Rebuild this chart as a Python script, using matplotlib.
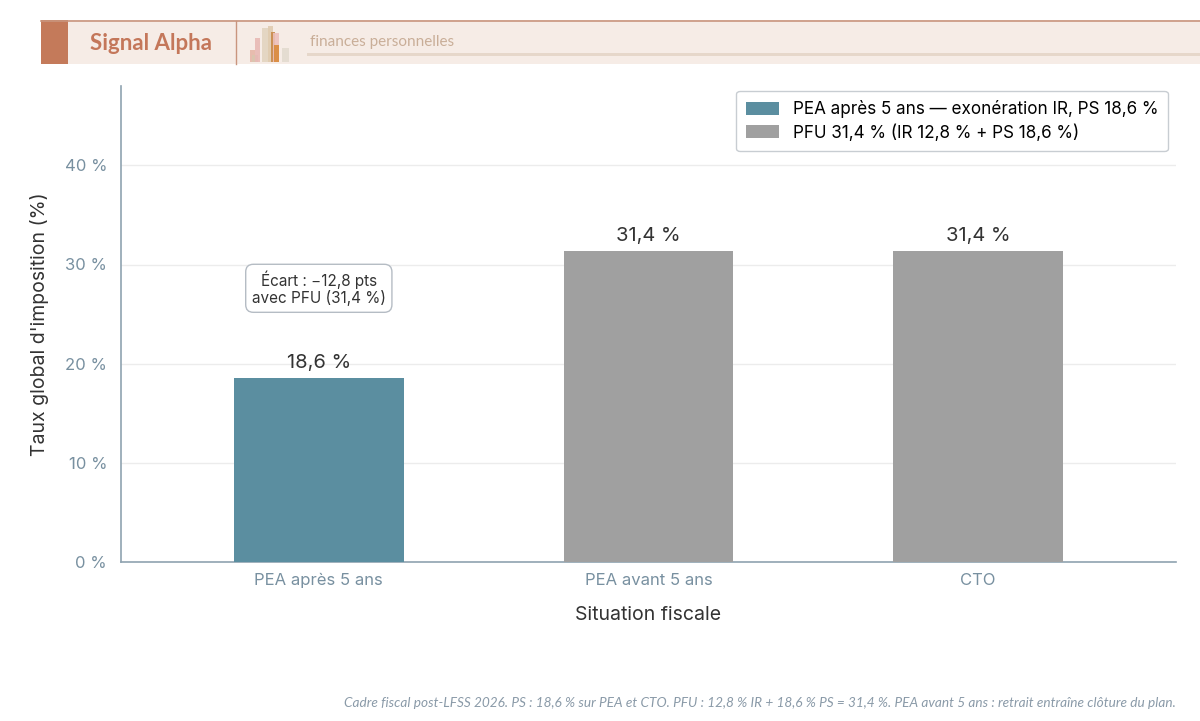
import matplotlib
matplotlib.use("Agg")
from matplotlib import pyplot as plt
from matplotlib.patches import Rectangle, Patch
import numpy as np

categories = ["PEA après 5 ans", "PEA avant 5 ans", "CTO"]
taux = [18.6, 31.4, 31.4]
couleurs = ["#5b8ea0", "#a0a0a0", "#a0a0a0"]
etiquettes = ["18,6 %", "31,4 %", "31,4 %"]
yticks = [0, 10, 20, 30, 40]
legende = ["PEA après 5 ans — exonération IR, PS 18,6 %",
           "PFU 31,4 % (IR 12,8 % + PS 18,6 %)"]
note_ecart = "Écart : \u221212,8 pts\navec PFU (31,4 %)"
source = ("Cadre fiscal post-LFSS 2026. PS : 18,6 % sur PEA et CTO. PFU : 12,8 % IR + "
          "18,6 % PS = 31,4 %. PEA avant 5 ans : retrait entraîne clôture du plan.")

plt.rcParams['font.family'] = ['Inter', 'DejaVu Sans']

W, H = 1200, 721
fig = plt.figure(figsize=(12, 7.21), dpi=100)

def fx(px):
    return px / W

def fy(py):
    return 1 - py / H

# bandeau du haut
fig.patches.append(Rectangle((fx(41), fy(64)), fx(1200 - 41), (64 - 20) / H,
                             transform=fig.transFigure, facecolor="#f6ece6",
                             edgecolor="none", zorder=0))
fig.add_artist(plt.Line2D([fx(41), 1], [fy(20.5), fy(20.5)], color="#c9957e", lw=1.2))
fig.patches.append(Rectangle((fx(41), fy(64)), fx(27), 44 / H, transform=fig.transFigure,
                             facecolor="#c47a5a", edgecolor="none"))
fig.add_artist(plt.Line2D([fx(236), fx(236)], [fy(64), fy(21)], color="#c9957e", lw=1))
fig.patches.append(Rectangle((fx(307), fy(56)), fx(1200 - 307), 3.5 / H,
                             transform=fig.transFigure, facecolor="#e6d7ca", edgecolor="none"))
fig.text(fx(90), fy(43), "Signal Alpha", fontsize=16, fontweight="bold",
         color="#c4775a", va="center", family=["Lato", "DejaVu Sans"])
fig.text(fx(310), fy(42), "finances personnelles", fontsize=11, color="#c9ae98",
         va="center", family=["Lato", "DejaVu Sans"])
# petite icone
icone = [(250, 50, 5, 12, "#e6b7a8"), (252, 55, 6, 7, "#d9c7b0"), (255, 38, 5, 24, "#e8b9b5"),
         (262, 28, 8, 34, "#e3d4c0"), (268, 26, 5, 36, "#e0cbb0"), (271, 32, 4, 30, "#c98a4a"),
         (273, 33, 6, 29, "#ecc0bc"), (274, 45, 5, 17, "#d98a3a"), (282, 48, 7, 14, "#e3dbcf")]
for x0, y0, w0, h0, c in icone:
    fig.patches.append(Rectangle((fx(x0), fy(y0 + h0)), fx(w0), h0 / H,
                                 transform=fig.transFigure, facecolor=c, edgecolor="none", alpha=0.9))

ax = fig.add_axes([fx(121), fy(562), fx(1176 - 121), (562 - 86) / H])
x = np.arange(len(categories))
bars = ax.bar(x, taux, width=0.515, color=couleurs, zorder=3)
for xi, v, lab in zip(x, taux, etiquettes):
    ax.text(xi, v + 0.6, lab, ha="center", va="bottom", fontsize=14.5, color="#333333")

ax.text(x[0], 27.6, note_ecart, ha="center", va="center", fontsize=11, color="#333333",
        linespacing=1.1,
        bbox=dict(boxstyle="round,pad=0.4,rounding_size=0.5", facecolor="white",
                  edgecolor="#b5bcc4", lw=1))

ax.set_xlim(-0.6, 2.6)
ax.set_ylim(0, 48)
ax.set_yticks(yticks)
ax.set_yticklabels([f"{t} %" for t in yticks])
ax.set_xticks(x)
ax.set_xticklabels(categories)
ax.tick_params(length=0, labelsize=12, labelcolor="#7890a0", pad=10)
ax.tick_params(axis="x", pad=8)
ax.grid(axis="y", color="#ececec", lw=1, zorder=0)
for s in ["top", "right"]:
    ax.spines[s].set_visible(False)
for s in ["left", "bottom"]:
    ax.spines[s].set_color("#8fa3b0")
    ax.spines[s].set_linewidth(1.2)
ax.set_ylabel("Taux global d'imposition (%)", fontsize=14, color="#333333", labelpad=11)
ax.set_xlabel("Situation fiscale", fontsize=14, color="#333333", labelpad=13)

handles = [Patch(facecolor="#5b8ea0"), Patch(facecolor="#a0a0a0")]
ax.legend(handles, legende, loc="upper right", bbox_to_anchor=(0.992, 0.9895), fontsize=12.3,
          frameon=True, edgecolor="#c8cdd2", fancybox=True, handlelength=1.95,
          handleheight=0.8, borderpad=0.55, labelspacing=0.35, framealpha=1,
          borderaxespad=0)

fig.text(fx(1176), fy(703), source, ha="right", va="center", fontsize=9.8, style="italic",
         color="#8a9aa8", family=["Lato", "DejaVu Sans"])

fig.savefig("out.png", dpi=100)
